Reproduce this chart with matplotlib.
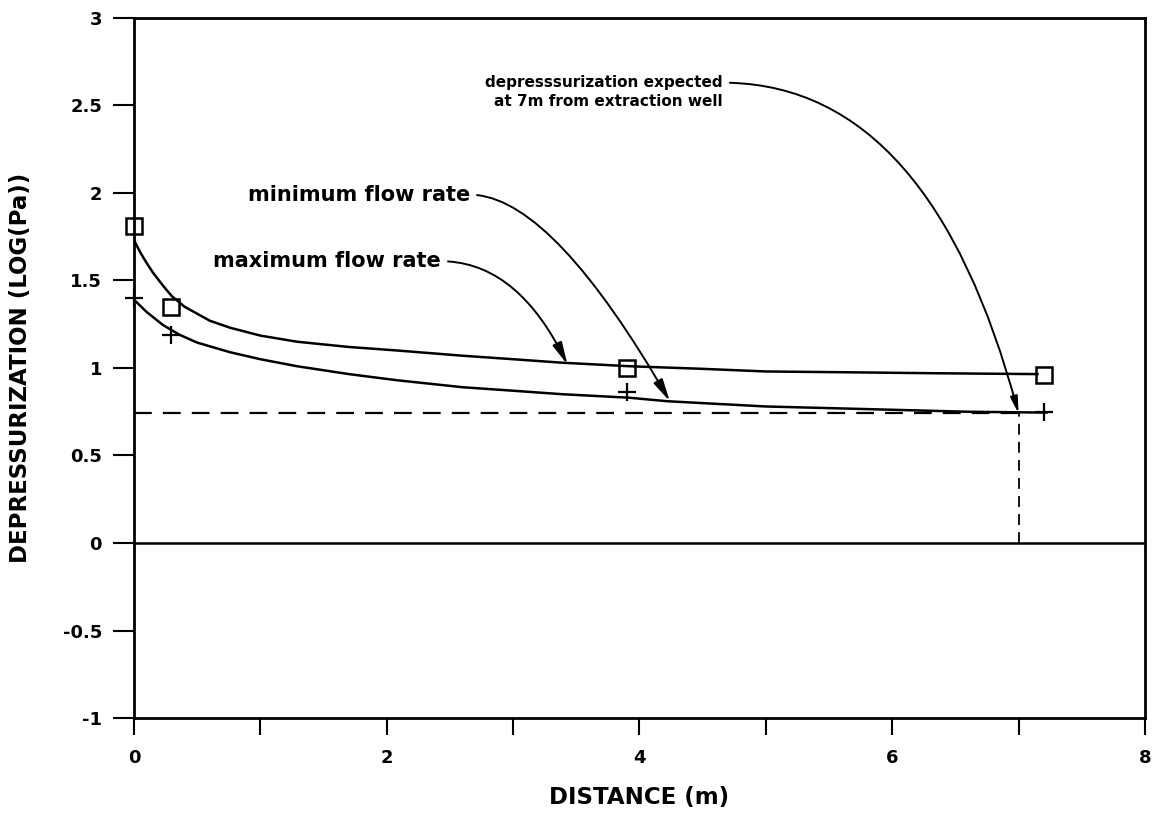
import numpy as np
import matplotlib.pyplot as plt

# measured points
dist = [0.0, 0.29, 3.9, 7.2]
min_rate_pts = [1.81, 1.35, 1.00, 0.96]   # squares
max_rate_pts = [1.40, 1.19, 0.86, 0.75]   # plus signs

# fitted curves
curve_x = [0.0, 0.05, 0.1, 0.15, 0.23, 0.3, 0.4, 0.5, 0.6, 0.76, 1.0, 1.29, 1.7, 2.08, 2.6, 3.0, 3.39, 3.92, 4.5, 5.0, 5.7, 6.32, 7.15]
curve_upper = [1.73, 1.66, 1.60, 1.545, 1.47, 1.41, 1.35, 1.31, 1.27, 1.23, 1.185, 1.15, 1.12, 1.10, 1.07, 1.05, 1.03, 1.01, 0.995, 0.98, 0.975, 0.97, 0.965]
curve_x2 = [0.0, 0.1, 0.23, 0.36, 0.5, 0.76, 1.0, 1.29, 1.7, 2.08, 2.6, 3.0, 3.39, 3.92, 4.22, 5.0, 5.8, 6.59, 7.22]
curve_lower = [1.39, 1.32, 1.245, 1.19, 1.145, 1.09, 1.05, 1.01, 0.965, 0.93, 0.89, 0.87, 0.85, 0.83, 0.81, 0.78, 0.765, 0.75, 0.745]

target_dist = 7.0
target_dep = 0.74

yticks = [-1, -0.5, 0, 0.5, 1, 1.5, 2, 2.5, 3]
ytick_labels = ['-1', '-0.5', '0', '0.5', '1', '1.5', '2', '2.5', '3']
xticks = [0, 2, 4, 6, 8]

plt.rcParams['font.family'] = 'DejaVu Sans'
plt.rcParams['font.weight'] = 'bold'

fig = plt.figure(figsize=(11.6, 8.15), dpi=100)
ax = fig.add_axes([0.1155, 0.119, 0.8715, 0.859])

ax.plot(curve_x, curve_upper, color='black', lw=1.8)
ax.plot(curve_x2, curve_lower, color='black', lw=1.8)
ax.plot(dist, min_rate_pts, linestyle='none', marker='s', ms=11, mfc='none', mec='black',
        mew=1.8, clip_on=False, zorder=5)
ax.plot(dist, max_rate_pts, linestyle='none', marker='+', ms=13, color='black', mew=1.6,
        clip_on=False, zorder=5)

ax.axhline(0, color='black', lw=1.8)
ax.plot([0, target_dist], [target_dep, target_dep], color='black', lw=1.6, dashes=(8, 5))
ax.plot([target_dist, target_dist], [0, target_dep], color='black', lw=1.3, dashes=(6, 4))

arrow = dict(arrowstyle='-|>,head_length=0.9,head_width=0.2', color='black', lw=1.4,
             shrinkA=3, shrinkB=0, relpos=(1, 0.5))

ax.annotate('minimum flow rate', xy=(4.24, 0.81), xytext=(2.66, 1.99),
            ha='right', va='center', fontsize=15, fontweight='bold',
            arrowprops=dict(arrow, connectionstyle='angle3,angleA=0,angleB=120'))
ax.annotate('maximum flow rate', xy=(3.43, 1.02), xytext=(2.43, 1.61),
            ha='right', va='center', fontsize=15, fontweight='bold',
            arrowprops=dict(arrow, connectionstyle='angle3,angleA=0,angleB=116'))
ax.annotate('depresssurization expected', xy=(target_dist, target_dep), xytext=(4.66, 2.63),
            ha='right', va='center', fontsize=11, fontweight='bold',
            arrowprops=dict(arrow, connectionstyle='angle3,angleA=0,angleB=105'))
ax.text(4.66, 2.525, 'at 7m from extraction well', ha='right', va='center',
        fontsize=11, fontweight='bold')

ax.set_xlim(0, 8)
ax.set_ylim(-1, 3)
ax.set_xticks(xticks)
ax.set_xticks([1, 3, 5, 7], minor=True)
ax.set_yticks(yticks)
ax.set_yticklabels(ytick_labels)
ax.tick_params(axis='both', which='both', direction='out', width=1.5, labelsize=13)
ax.tick_params(axis='x', which='both', length=12, pad=10)
ax.tick_params(axis='y', length=15, pad=8)
for sp in ax.spines.values():
    sp.set_linewidth(2)

ax.set_xlabel('DISTANCE (m)', fontsize=16.5, fontweight='bold', labelpad=14)
ax.set_ylabel('DEPRESSURIZATION (LOG(Pa))', fontsize=16.5, fontweight='bold', labelpad=22)

fig.savefig('out.png', dpi=100)
